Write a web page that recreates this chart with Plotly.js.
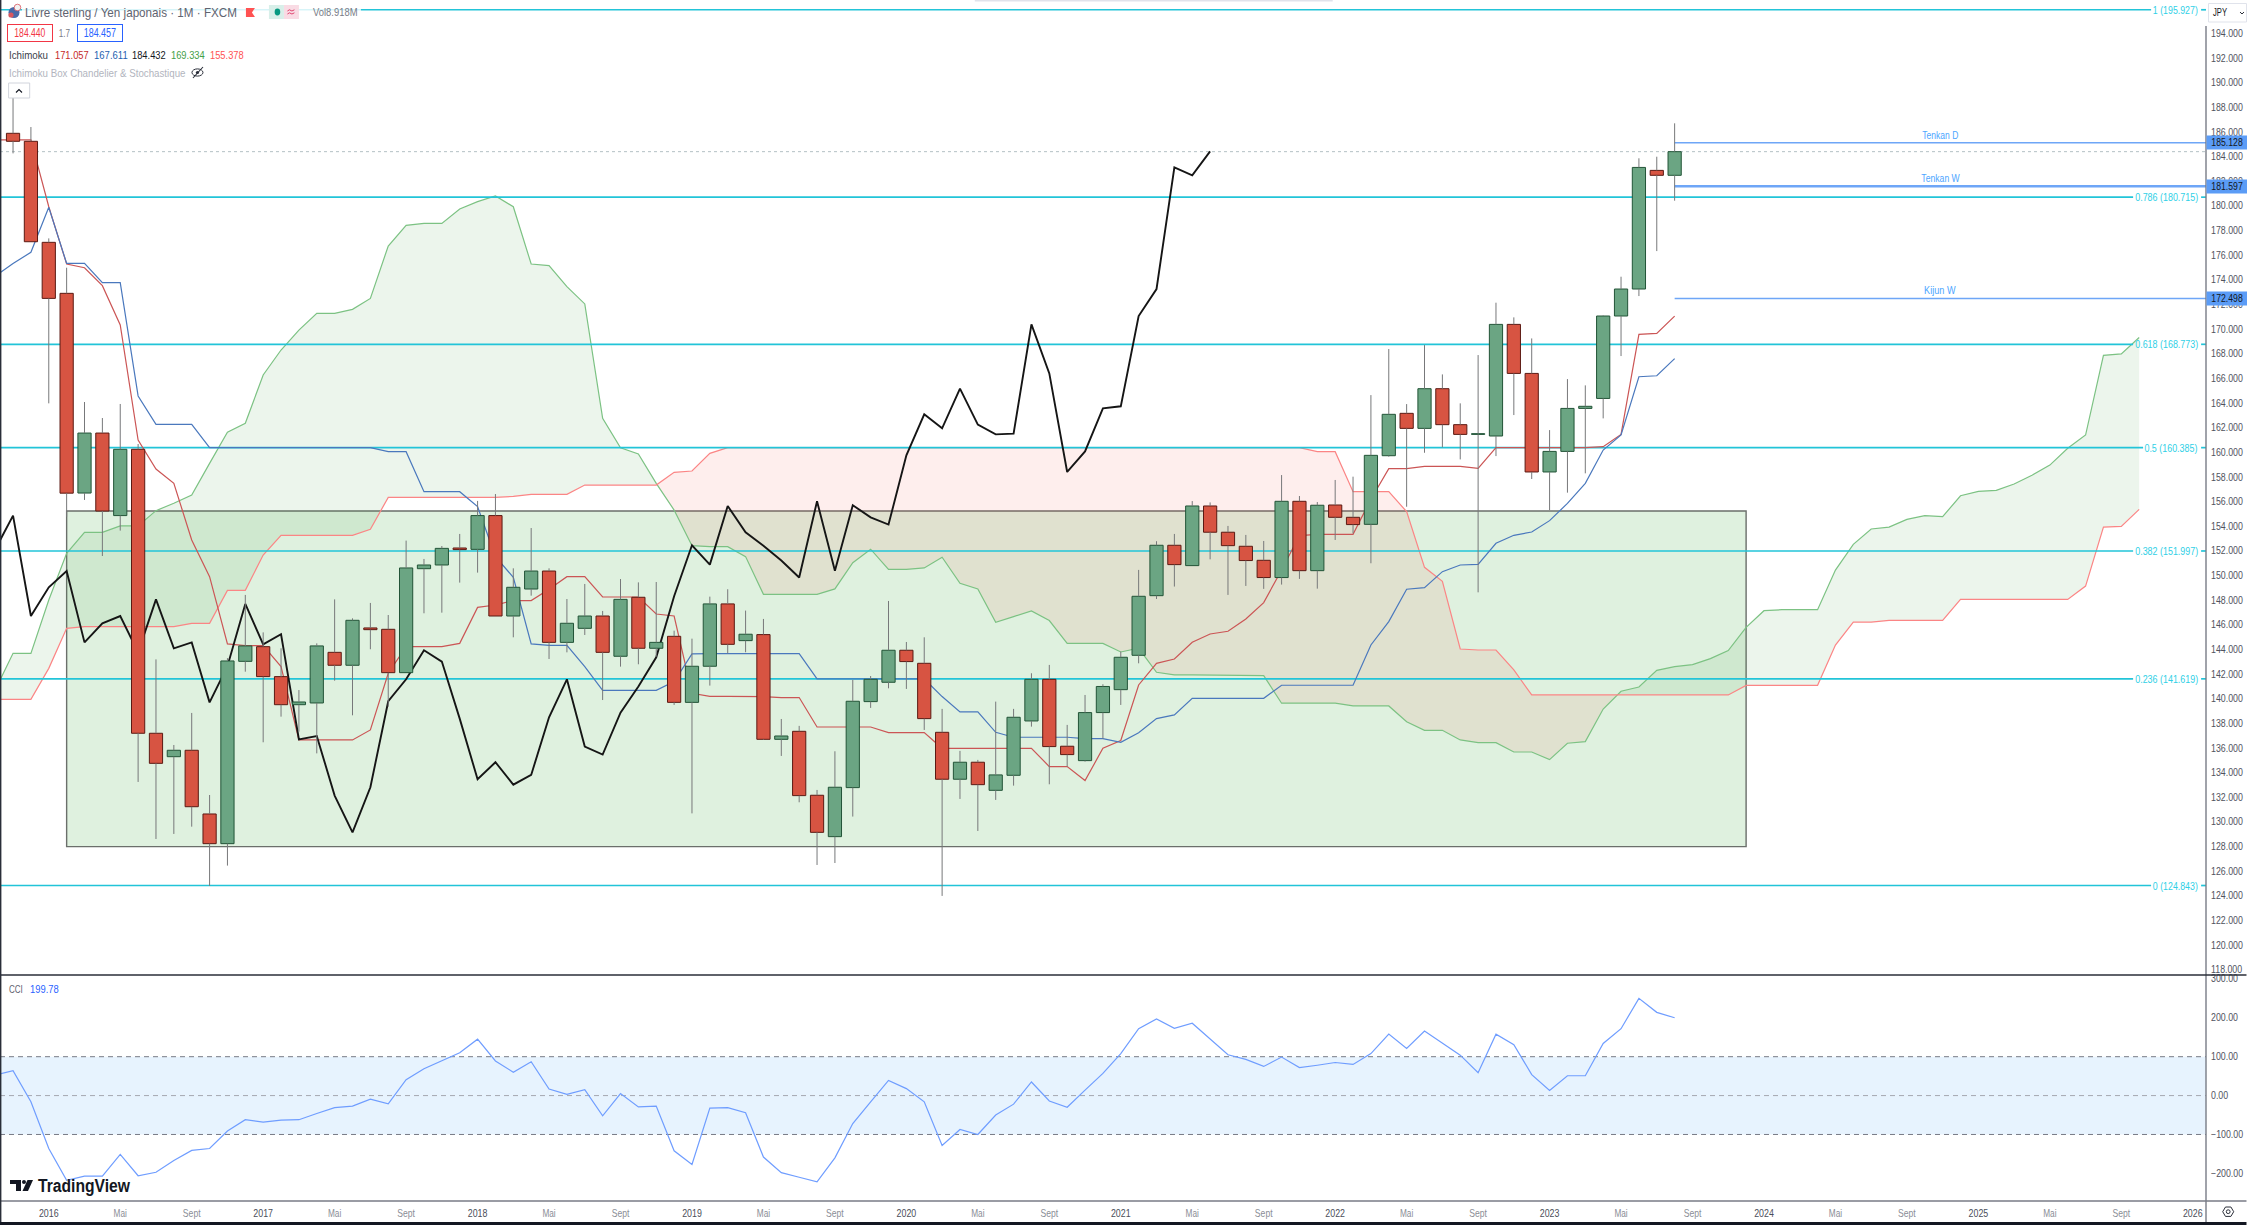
<!DOCTYPE html>
<html><head><meta charset="utf-8">
<script src="https://cdn.plot.ly/plotly-3.0.1.min.js"></script>
<style>html,body{margin:0;padding:0;background:#fff}#c{width:2247px;height:1225px}</style></head>
<body><div id="c"></div>
<script>
// Month index: 0 = Jan 2016. Candles run from index -2 (Nov 2015) to 91 (Aug 2023).
const candleStart = -2;
const open = [185.90,185.25,177.05,172.91,156.70,161.57,154.87,160.25,137.20,135.30,135.82,130.65,128.24,143.04,144.23,141.80,139.52,139.66,143.77,142.72,145.75,145.64,142.12,150.56,150.86,152.24,152.13,154.87,146.72,148.91,150.37,144.58,145.72,146.72,143.45,148.24,144.10,145.07,139.71,142.64,147.70,144.72,145.21,136.71,137.36,132.17,128.81,132.79,139.77,141.34,143.94,142.88,137.28,133.47,134.85,132.57,133.79,138.20,141.58,136.15,134.98,138.88,140.74,143.53,148.37,152.46,150.81,155.65,153.52,152.38,151.24,149.84,156.03,150.40,155.73,154.73,154.16,159.73,163.17,161.95,165.17,162.25,161.46,161.33,170.39,166.41,158.41,160.08,163.57,164.38,171.07,173.26,182.89,182.49];
const high = [189.40,186.41,177.37,174.99,164.09,162.79,163.93,160.68,143.20,136.25,138.85,132.19,143.30,148.43,145.39,144.10,140.71,144.50,148.07,146.53,147.78,146.80,152.84,151.35,152.40,153.38,156.06,156.62,150.59,153.86,150.59,148.10,149.32,147.13,149.72,149.45,149.48,145.53,144.88,148.29,148.89,147.16,146.48,138.36,137.80,132.60,135.74,141.53,141.85,147.94,144.61,144.99,139.18,135.77,135.04,139.77,139.18,142.07,142.75,137.88,140.31,141.18,143.83,150.46,152.79,153.38,156.05,155.94,154.03,153.30,152.81,158.16,156.46,155.97,157.76,158.03,164.65,168.39,163.92,168.71,166.33,163.98,167.90,172.15,170.96,169.25,161.81,165.95,165.44,171.12,174.26,183.87,184.00,186.71];
const low = [184.27,177.10,163.98,154.78,156.14,151.59,153.65,133.25,128.62,129.03,129.62,124.81,126.46,142.20,136.47,138.55,137.33,135.57,141.47,138.66,144.02,139.36,142.12,146.94,146.99,149.43,150.24,146.72,144.99,148.37,143.23,143.77,145.18,139.90,142.61,142.80,143.42,139.50,130.70,141.07,143.69,143.78,136.66,135.36,131.60,126.51,126.67,130.44,139.26,140.85,140.80,137.47,124.00,131.87,129.27,131.79,132.95,137.74,133.06,134.50,134.90,136.77,139.50,142.88,148.10,149.11,150.81,151.32,148.43,149.16,148.92,149.27,149.73,148.94,152.89,153.43,151.00,159.65,155.59,159.97,160.41,159.43,148.64,159.70,163.03,157.84,155.32,156.73,158.30,162.76,167.82,172.69,176.34,180.43];
const close = [185.25,177.10,172.50,156.69,161.57,155.24,160.25,137.20,134.76,135.82,131.24,128.24,143.07,144.29,141.80,139.52,139.74,144.29,142.72,146.37,145.61,142.12,150.62,150.86,152.21,152.11,154.87,146.72,149.05,150.37,144.58,146.13,146.72,143.77,148.07,144.10,144.58,139.71,142.64,147.70,144.42,145.24,136.71,136.98,132.14,129.16,132.82,139.80,141.58,143.94,143.02,138.39,133.47,134.85,133.03,133.82,138.50,141.58,136.12,135.47,138.88,141.00,143.37,148.32,152.46,150.89,155.65,153.52,152.43,151.22,149.84,156.03,150.40,155.71,154.73,154.14,159.76,163.09,161.95,165.17,162.25,161.46,161.52,170.39,166.41,158.41,160.08,163.57,163.74,171.07,173.26,183.13,182.49,184.41];

// Lines start one month before the first candle (index -3).
const lineStart = -3;
const tenkan = [185.36,185.36,185.36,179.94,175.29,174.99,173.53,170.34,161.00,158.65,157.49,152.89,149.91,144.45,144.31,144.31,142.61,136.66,136.66,136.66,136.66,137.47,142.07,144.23,144.23,144.23,144.50,147.42,147.61,147.97,147.97,148.89,149.91,149.91,148.26,148.26,148.26,146.88,146.72,140.45,140.20,140.20,140.20,140.18,140.10,140.10,137.71,137.71,137.71,137.71,137.25,137.25,137.25,135.98,135.98,135.98,135.98,135.98,135.98,134.50,134.50,133.36,135.98,136.61,141.12,142.88,143.23,144.59,145.26,145.48,146.48,147.81,150.46,153.25,153.35,153.35,153.35,156.20,158.68,158.68,158.87,158.87,158.87,158.70,160.38,160.38,160.38,160.38,160.38,160.38,160.46,161.46,169.58,169.66,171.06];
const kijun = [174.30,175.34,176.24,179.89,175.34,175.34,173.78,173.78,164.58,162.28,162.28,162.28,160.38,160.38,160.38,160.38,160.38,160.38,160.38,160.38,160.38,160.38,160.06,160.06,156.81,156.81,156.81,155.60,151.54,149.86,144.45,144.34,144.34,142.61,140.69,140.69,140.69,140.69,141.40,143.64,143.67,143.67,143.67,143.67,143.67,143.67,141.61,141.61,141.61,141.61,141.61,141.61,141.61,140.18,138.93,138.93,137.28,136.88,136.88,136.88,136.88,136.77,136.77,136.47,137.25,138.39,138.69,140.04,140.04,140.04,140.04,140.04,141.10,141.10,141.10,141.10,141.10,144.37,146.26,148.89,149.02,150.32,150.86,150.91,152.62,153.27,153.54,154.46,155.86,157.49,160.19,161.41,166.14,166.22,167.61];
const chikou = [152.11,154.87,146.72,149.05,150.37,144.58,146.13,146.72,143.77,148.07,144.10,144.58,139.71,142.64,147.70,144.42,145.24,136.71,136.98,132.14,129.16,132.82,139.80,141.58,143.94,143.02,138.39,133.47,134.85,133.03,133.82,138.50,141.58,136.12,135.47,138.88,141.00,143.37,148.32,152.46,150.89,155.65,153.52,152.43,151.22,149.84,156.03,150.40,155.71,154.73,154.14,159.76,163.09,161.95,165.17,162.25,161.46,161.52,170.39,166.41,158.41,160.08,163.57,163.74,171.07,173.26,183.13,182.49,184.43];
const senkouA = [140.71,143.69,143.69,148.02,151.81,153.51,153.51,154.03,154.03,155.27,155.87,156.54,159.11,161.63,162.36,166.28,168.31,169.93,171.29,171.29,171.61,172.50,176.75,178.43,178.59,178.59,179.76,180.35,180.81,179.94,175.29,175.16,173.45,172.05,162.76,160.38,159.87,157.49,155.32,152.43,152.35,152.35,151.54,148.48,148.48,148.48,148.48,148.92,151.05,152.14,150.51,150.51,150.62,151.49,149.38,148.92,146.21,146.67,147.13,146.35,144.50,144.50,144.50,143.80,144.10,142.15,141.94,141.94,141.94,141.94,141.88,141.88,139.64,139.64,139.64,139.64,139.42,139.42,139.42,138.14,137.44,137.44,136.66,136.44,136.44,135.68,135.68,135.06,136.39,136.52,139.17,140.61,140.96,142.31,142.61,142.77,143.26,143.91,145.80,147.15,147.23,147.23,147.23,150.45,152.53,153.78,153.94,154.56,154.86,154.78,156.48,156.84,156.92,157.43,158.14,158.97,160.33,161.41,167.88,167.99,169.33];
const senkouB = [139.96,139.96,139.96,142.47,145.72,145.86,145.86,145.86,145.86,145.86,145.86,146.12,146.12,148.80,148.80,151.67,153.27,153.27,153.27,153.27,153.27,153.76,156.35,156.35,156.35,156.35,156.35,156.35,156.35,156.43,156.60,156.60,156.60,157.35,157.35,157.35,157.35,157.35,158.38,158.49,159.92,160.38,160.38,160.38,160.38,160.38,160.38,160.38,160.38,160.38,160.38,160.38,160.38,160.38,160.38,160.38,160.38,160.38,160.38,160.38,160.38,160.38,160.38,160.38,160.38,160.38,160.38,160.38,160.38,160.38,160.38,160.38,160.38,160.38,160.06,160.06,156.81,156.81,156.81,155.19,150.67,149.53,144.04,143.96,143.96,142.34,140.31,140.31,140.31,140.31,140.31,140.31,140.31,140.31,140.31,140.31,140.31,140.31,141.09,141.09,141.09,141.09,141.09,144.36,146.23,146.23,146.37,146.37,146.37,146.37,148.07,148.07,148.07,148.07,148.07,148.07,148.07,149.15,153.94,153.99,155.38];
const cci = [53,64,-16,-136,-218,-207,-207,-151,-206,-197,-167,-141,-136,-91,-62,-68,-63,-62,-46,-31,-27,-9,-21,41,69,89,110,145,89,60,87,17,3,15,-52,5,-29,-27,-142,-177,-32,-31,-44,-158,-198,-210,-222,-160,-72,-16,39,18,-16,-128,-87,-100,-50,-22,35,-14,-30,14,57,108,172,197,173,186,146,105,93,75,99,72,78,85,80,108,158,121,166,136,104,59,158,131,54,13,51,51,134,172,250,214,200];

const fibLevels = [195.927,180.715,168.773,160.385,151.997,141.619,124.843];
const fibLabels = ['1 (195.927)','0.786 (180.715)','0.618 (168.773)','0.5 (160.385)','0.382 (151.997)','0.236 (141.619)','0 (124.843)'];
const levelValues = [185.128,181.597,172.498];
const levelNames = ['Tenkan D','Tenkan W','Kijun W'];
const levelTags = ['185.128','181.597','172.498'];
const lastPrice = 184.41;
const boxRange = {x0:1,x1:95,y0:128.0,y1:155.24};
const priceTicks = [118,120,122,124,126,128,130,132,134,136,138,140,142,144,146,148,150,152,154,156,158,160,162,164,166,168,170,172,174,176,178,180,182,184,186,188,190,192,194];
const cciTicks = [300,200,100,0,-100,-200];
const monthTicks = [0,4,8,12,16,20,24,28,32,36,40,44,48,52,56,60,64,68,72,76,80,84,88,92,96,100,104,108,112,116,120];
const tickNames = ['2016','Mai','Sept','2017','Mai','Sept','2018','Mai','Sept','2019','Mai','Sept','2020','Mai','Sept','2021','Mai','Sept','2022','Mai','Sept','2023','Mai','Sept','2024','Mai','Sept','2025','Mai','Sept','2026'];

// The reference text is narrow: each label is condensed to its measured width after drawing.
const textWidths = {
  'Livre sterling / Yen japonais · 1M · FXCM':212,'Vol8.918M':44.5,'184.440':31,'1.7':11.3,'184.457':32.3,
  'Ichimoku':39,'171.057':33.7,'167.611':33.7,'184.432':33.7,'169.334':33.7,'155.378':33.7,
  'Ichimoku Box Chandelier & Stochastique':176.5,'CCI':13.8,'199.78':28.7,'TradingView':92,'JPY':14,
  '1 (195.927)':45,'0.786 (180.715)':63,'0.618 (168.773)':63,'0.5 (160.385)':53,'0.382 (151.997)':63,'0.236 (141.619)':63,'0 (124.843)':45,
  'Tenkan D':36,'Tenkan W':38.4,'Kijun W':31.4,'185.128':31.4,'181.597':31.4,'172.498':31.4,
  'Mai':13.3,'Sept':17.7
};

const FONT = '"Liberation Sans",Arial,sans-serif';
const PW = 2206.5, PH = 1201;
const px = v => v/PW, py = v => (PH-v)/PH;
const xRange = [-2.73,120.74], yRange = [117.58,196.72], cciRange = [-271,310];
const toIdx = p => xRange[0]+(p/PW)*(xRange[1]-xRange[0]);
const UP='#6ba583',DN='#d75442',UPB='#225437',DNB='#5b1a13';
const seq = (s,n) => Array.from({length:n},(_,i)=>s+i);

const traces = [];
// cloud polygons split where the two spans cross
(function(){
  const xs = seq(lineStart,senkouA.length);
  let curA=[],curB=[],curX=[],sign=null;
  const flush=()=>{ if(curX.length<2) return;
    traces.push({type:'scatter',mode:'lines',x:curX.concat(curX.slice().reverse()),y:curA.concat(curB.slice().reverse()),
      fill:'toself',fillcolor:sign>0?'rgba(67,160,71,0.10)':'rgba(244,67,54,0.09)',line:{width:0},hoverinfo:'skip',showlegend:false}); };
  for(let i=0;i<xs.length;i++){
    const d=senkouA[i]-senkouB[i], s=d>=0?1:-1;
    if(sign!==null && s!==sign){
      const dp=senkouA[i-1]-senkouB[i-1], t=dp/(dp-d);
      const cx=xs[i-1]+t, cy=senkouA[i-1]+t*(senkouA[i]-senkouA[i-1]);
      curX.push(cx);curA.push(cy);curB.push(cy);flush();
      curX=[cx];curA=[cy];curB=[cy];
    }
    sign=s;curX.push(xs[i]);curA.push(senkouA[i]);curB.push(senkouB[i]);
  }
  flush();
})();
const line=(x,y,color,width,extra)=>Object.assign({type:'scatter',mode:'lines',x,y,line:{color,width},hoverinfo:'skip',showlegend:false},extra||{});
traces.push(line(seq(lineStart,senkouA.length),senkouA,'#7cc283',1.2));
traces.push(line(seq(lineStart,senkouB.length),senkouB,'#fb8585',1.2));
fibLevels.forEach((v,i)=>{
  const gapStart=toIdx(2199.6-textWidths[fibLabels[i]]-3), gapEnd=toIdx(2201.6);
  traces.push(line([xRange[0],gapStart,null,gapEnd,xRange[1]],[v,v,null,v,v],'#22c4d8',1.7));
});
traces.push(line(xRange,[lastPrice,lastPrice],'#b4c0c4',1,{line:{color:'#b4c0c4',width:1,dash:'dot'}}));
traces.push(line(seq(lineStart,tenkan.length),tenkan,'#cb5555',1.2));
traces.push(line(seq(lineStart,kijun.length),kijun,'#4a78bd',1.2));
traces.push(line(seq(lineStart,chikou.length),chikou,'#151515',1.9));
levelValues.forEach((v,i)=>traces.push(line([91,xRange[1]],[v,v],'#6ea6f7',i===1?2.4:1.5)));

// candles on an overlay subplot so that they sit above the lines
const cx=seq(candleStart,open.length);
const wx=[],wy=[];
cx.forEach((x,i)=>{const t=Math.max(open[i],close[i]),b=Math.min(open[i],close[i]);
  wx.push(x,x,null,x,x,null);wy.push(high[i],t,null,b,low[i],null);});
traces.push({type:'bar',x:cx,y:cx.map((_,i)=>Math.abs(close[i]-open[i])),base:cx.map((_,i)=>Math.min(open[i],close[i])),width:0.74,
  marker:{color:cx.map((_,i)=>close[i]>=open[i]?UP:DN),line:{color:cx.map((_,i)=>close[i]>=open[i]?UPB:DNB),width:1}},
  xaxis:'x3',yaxis:'y3',hoverinfo:'skip',showlegend:false});
traces.push({type:'scatter',mode:'lines',x:wx,y:wy,line:{color:'#77787a',width:1},connectgaps:false,xaxis:'x3',yaxis:'y3',hoverinfo:'skip',showlegend:false});

traces.push({type:'scatter',mode:'lines',x:seq(lineStart,cci.length),y:cci,line:{color:'#6f9dff',width:1.2},xaxis:'x2',yaxis:'y2',hoverinfo:'skip',showlegend:false});

const R=(x0,y0,x1,y1,fill,lineColor,lw,layer)=>({type:'rect',xref:'paper',yref:'paper',x0:px(x0),x1:px(x1),y0:py(y0),y1:py(y1),fillcolor:fill||'rgba(0,0,0,0)',line:{color:lineColor||'rgba(0,0,0,0)',width:lw||0},layer:layer||'above'});
const C=(cx,cy,rx,ry,fill,lineColor,lw)=>({type:'circle',xref:'paper',yref:'paper',x0:px(cx-rx),x1:px(cx+rx),y0:py(cy+ry),y1:py(cy-ry),fillcolor:fill||'rgba(0,0,0,0)',line:{color:lineColor||'rgba(0,0,0,0)',width:lw||0},layer:'above'});
const P=(pts,fill,lineColor,lw,closed)=>({type:'path',xref:'paper',yref:'paper',path:pts.map((p,i)=>(i?'L':'M')+px(p[0])+','+py(p[1])).join(' ')+(closed?' Z':''),fillcolor:fill||'rgba(0,0,0,0)',line:{color:lineColor||'rgba(0,0,0,0)',width:lw||0},layer:'above'});

const shapes=[
  {type:'rect',xref:'x',yref:'y',x0:boxRange.x0,x1:boxRange.x1,y0:boxRange.y0,y1:boxRange.y1,fillcolor:'rgba(76,175,80,0.18)',line:{color:'#6b6f6b',width:1.4},layer:'below'},
  {type:'rect',xref:'paper',yref:'y2',x0:0,x1:1,y0:-100,y1:100,fillcolor:'rgba(33,150,243,0.11)',line:{width:0},layer:'below'},
  {type:'line',xref:'paper',yref:'y2',x0:0,x1:1,y0:100,y1:100,line:{color:'#787b86',width:1,dash:'5px,4px'},layer:'below'},
  {type:'line',xref:'paper',yref:'y2',x0:0,x1:1,y0:0,y1:0,line:{color:'#a5a8b0',width:1,dash:'5px,4px'},layer:'below'},
  {type:'line',xref:'paper',yref:'y2',x0:0,x1:1,y0:-100,y1:-100,line:{color:'#787b86',width:1,dash:'5px,4px'},layer:'below'},
  // pane frame
  P([[2206.5,26],[2206.5,1222]],null,'#787b86',1.4),
  P([[0,975],[2247,975]],null,'#2a2e39',1.4),
  P([[0,1201],[2247,1201]],null,'#787b86',1.4),
  P([[0.7,0],[0.7,1222]],null,'#2a2e39',1.4),
  R(0,1222,2247,1225,'#131722'),
  R(975,0,1333,1.4,'#e0e3eb'),
  // veil behind the header text
  R(22,3,361,20,'rgba(255,255,255,0.82)'),
  // header icons
  C(14,12.5,5.5,5.5,'#4a6aa8'),C(11,15,2.6,2.6,'#d9575f'),C(17.5,7.5,3.3,3.3,'#f2f2f2','#d9575f',0.8),
  P([[246,8],[255,8],[252,12.5],[255,17],[246,17]],'#ff5252',null,0,true),
  R(269,5,284,19,'#d8efe9'),R(284,5,299,19,'#f9dbe4'),
  C(277.5,12,2.8,3.4,'#089981'),
  P([[287.5,11],[289.5,9.8],[292,11],[294.5,9.8]],null,'#e0446f',1),
  P([[287.5,14],[289.5,12.8],[292,14],[294.5,12.8]],null,'#e0446f',1),
  // collapse button
  R(8.6,83,29.7,98,'#ffffff','#d1d4dc',1),
  P([[16,92.5],[19,89.5],[22,92.5]],null,'#131722',1.1),
  // hidden eye
  C(197.5,72.5,5.5,3.6,'#ffffff','#2a2e39',1),C(197.5,72.5,1.6,1.6,'#2a2e39'),
  P([[193,78],[203,67]],null,'#2a2e39',1.1),
  // currency box
  R(2209,3.5,2247,22,'#ffffff','#e0e3eb',1),
  P([[2240.5,12],[2242.5,14],[2244.5,12]],null,'#131722',0.9),
  // settings icon
  P([[2223.2,1211.7],[2226,1207],[2231.4,1207],[2234.2,1211.7],[2231.4,1216.4],[2226,1216.4]],null,'#2a2e39',1,true),
  C(2228.7,1211.7,1.9,1.9,null,'#2a2e39',1),
  // TradingView mark
  P([[10,1180],[21,1180],[21,1191],[16,1191],[16,1184],[10,1184]],'#131722',null,0,true),
  C(24,1182,2,2,'#131722'),
  P([[27.5,1180],[33,1180],[28,1191],[22.5,1191]],'#131722',null,0,true)
];

const T=(text,x,y,size,color,extra)=>Object.assign({xref:'paper',yref:'paper',x:px(x),y:py(y),text,showarrow:false,xanchor:'left',yanchor:'middle',align:'left',font:{family:FONT,size,color},borderpad:0,captureevents:false},extra||{});
const anns=[
  T('Livre sterling / Yen japonais · 1M · FXCM',24.5,12,13,'#5f6370'),
  T('Vol8.918M',312,12,10.5,'#787b86'),
  T('184.440',30,33,12,'#f23645',{xanchor:'center',align:'center',width:44,height:16,bordercolor:'#f23645',borderwidth:1,bgcolor:'#fff'}),
  T('1.7',65,33,10.5,'#787b86',{xanchor:'center',align:'center'}),
  T('184.457',100,33,12,'#2962ff',{xanchor:'center',align:'center',width:44,height:16,bordercolor:'#2962ff',borderwidth:1,bgcolor:'#fff'}),
  T('Ichimoku',8,54.7,11.5,'#3a3e4a'),
  T('171.057',54,54.7,11.5,'#c62828'),
  T('167.611',92.7,54.7,11.5,'#1f5fb0'),
  T('184.432',131,54.7,11.5,'#131722'),
  T('169.334',170,54.7,11.5,'#43a047'),
  T('155.378',209,54.7,11.5,'#ff5252'),
  T('Ichimoku Box Chandelier &amp; Stochastique',8,72.7,11.5,'#b2b5be'),
  T('CCI',8,989,11,'#5f6370'),
  T('199.78',28.7,989,11,'#2962ff'),
  T('TradingView',37,1185.5,17.5,'#131722',{font:{family:FONT,size:17.5,color:'#131722',weight:700}}),
  T('JPY',2213,13,10,'#131722')
];
fibLevels.forEach((v,i)=>anns.push({xref:'paper',yref:'y',x:px(2199.6),y:v,text:fibLabels[i],showarrow:false,xanchor:'right',yanchor:'middle',align:'right',font:{family:FONT,size:11.5,color:'#2fd0e6'},borderpad:0,captureevents:false}));
levelValues.forEach((v,i)=>{
  anns.push({xref:'paper',yref:'y',x:px(1940.7),y:v,yshift:8,text:levelNames[i],showarrow:false,xanchor:'center',yanchor:'middle',align:'center',font:{family:FONT,size:11.5,color:'#4da6ff'},captureevents:false});
  anns.push({xref:'paper',yref:'y',x:px(2206.5),y:v,text:levelTags[i],showarrow:false,xanchor:'left',yanchor:'middle',width:40.5,height:12.5,align:'center',borderpad:0,font:{family:FONT,size:10,color:'#131722'},bgcolor:'#5b9cf6',captureevents:false});
});

const domSplit=(PH-975)/PH;
const layout={
  width:2247,height:1225,margin:{l:0,r:40.5,t:0,b:24,pad:0},paper_bgcolor:'#fff',plot_bgcolor:'#fff',showlegend:false,
  barmode:'overlay',hovermode:false,dragmode:false,
  xaxis:{domain:[0,1],range:xRange,anchor:'y',showgrid:false,zeroline:false,showticklabels:false,ticks:'',showline:false},
  xaxis2:{domain:[0,1],range:xRange,anchor:'y2',showgrid:false,zeroline:false,showline:false,tickmode:'array',tickvals:monthTicks,
    ticktext:tickNames,ticks:'outside',ticklen:1,tickcolor:'rgba(0,0,0,0)',tickfont:{family:FONT,size:11.5,color:'#4a4e59'},tickangle:0},
  xaxis3:{overlaying:'x',range:xRange,anchor:'y3',visible:false},
  yaxis:{domain:[domSplit,1],range:yRange,anchor:'x',side:'right',showgrid:false,zeroline:false,showline:false,tickmode:'array',tickvals:priceTicks,tickformat:'.3f',ticks:'outside',ticklen:2,tickcolor:'rgba(0,0,0,0)',tickfont:{family:FONT,size:10,color:'#50535e'}},
  yaxis2:{domain:[0,domSplit],range:cciRange,anchor:'x2',side:'right',showgrid:false,zeroline:false,showline:false,tickmode:'array',tickvals:cciTicks,tickformat:'.2f',ticks:'outside',ticklen:2,tickcolor:'rgba(0,0,0,0)',tickfont:{family:FONT,size:10,color:'#50535e'}},
  yaxis3:{overlaying:'y',range:yRange,anchor:'x3',visible:false},
  shapes,annotations:anns
};
function condense(){
  document.querySelectorAll('#c svg text').forEach(t=>{
    const s=t.textContent, isX=!!t.closest('.xtick,.x2tick'), isY=!!t.closest('.ytick,.y2tick');
    if(!s.trim()) return;
    let w=textWidths[s];
    if(!w){ if(!isX&&!isY) return; w=t.getComputedTextLength()*(isY?0.88:0.77); }
    t.setAttribute('textLength',w);
    t.setAttribute('lengthAdjust','spacingAndGlyphs');
    if(s==='Mai'||s==='Sept') t.style.fill='#8a8d96';
  });
}
Plotly.newPlot('c',traces,layout,{displayModeBar:false,staticPlot:true,responsive:false}).then(condense);
</script></body></html>
